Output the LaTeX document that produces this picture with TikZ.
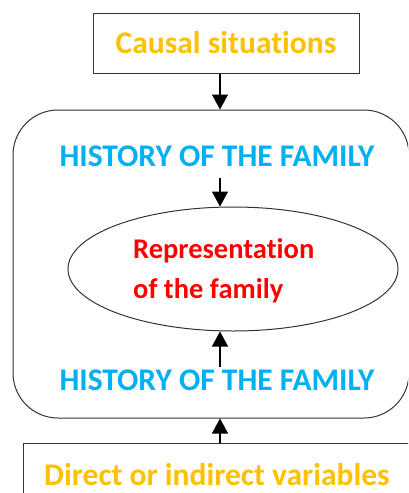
\documentclass[tikz,border=0pt]{standalone}
\usepackage{fontspec}
\setmainfont{Carlito}[Ligatures=NoCommon]
\usetikzlibrary{arrows.meta,shapes.geometric}
\definecolor{causeorange}{HTML}{FFC000}
\definecolor{histblue}{HTML}{00B0F0}
\definecolor{repred}{HTML}{FF0000}
\begin{document}
\begin{tikzpicture}[x=1pt, y=-1pt,
  box/.style={draw=black!80, line width=1pt, inner sep=0pt},
  orangetxt/.style={text=causeorange, font=\fontsize{31.5}{31.5}\selectfont\bfseries},
  histtxt/.style={text=histblue, font=\fontsize{31.5}{31.5}\selectfont\bfseries, inner sep=2pt},
  reptxt/.style={text=repred, font=\fontsize{28.5}{28.5}\selectfont\bfseries, anchor=base west, inner sep=0pt},
  arr/.style={draw=black, line width=1.3pt, -{Triangle[width=16pt,length=15pt]}}]
  \useasboundingbox (0,0) rectangle (408,493);
  \clip (0,0) rectangle (408,493);
  \coordinate (spine) at (220,0);
  % CAUSAL SITUATIONS
  \node[box, orangetxt, minimum width=266pt, minimum height=60pt] (causes) at (226,43) {Causal situations};
  % FAMILY FRAME
  \node[box, rounded corners=45pt, minimum width=396pt, minimum height=308pt] (frame) at (211,264) {};
  \node[histtxt] (histtop) at (217,156) {HISTORY OF THE FAMILY};
  % ellipse "representation"
  \node[box, ellipse, minimum width=330pt, minimum height=124pt] (rep) at (233,269) {};
  \node[reptxt] (repone) at (133,258) {Representation};
  \node[reptxt] (reptwo) at (133,298) {of the family};
  \node[histtxt] (histbot) at (217,380) {HISTORY OF THE FAMILY};
  % DIRECT OR INDIRECT VARIABLES
  \node[box, orangetxt, minimum width=388pt, minimum height=63pt] (vars) at (217,474.5) {Direct or indirect variables};
  % arrows
  \draw[arr] (causes.south -| spine) -- (frame.north -| spine);
  \draw[arr, shorten <=9pt] (histtop.south -| spine) -- (rep.north -| spine);
  \draw[arr] (histbot.north -| spine) -- (rep.south -| spine);
  \draw[arr] (vars.north -| spine) -- (frame.south -| spine);
\end{tikzpicture}
\end{document}
